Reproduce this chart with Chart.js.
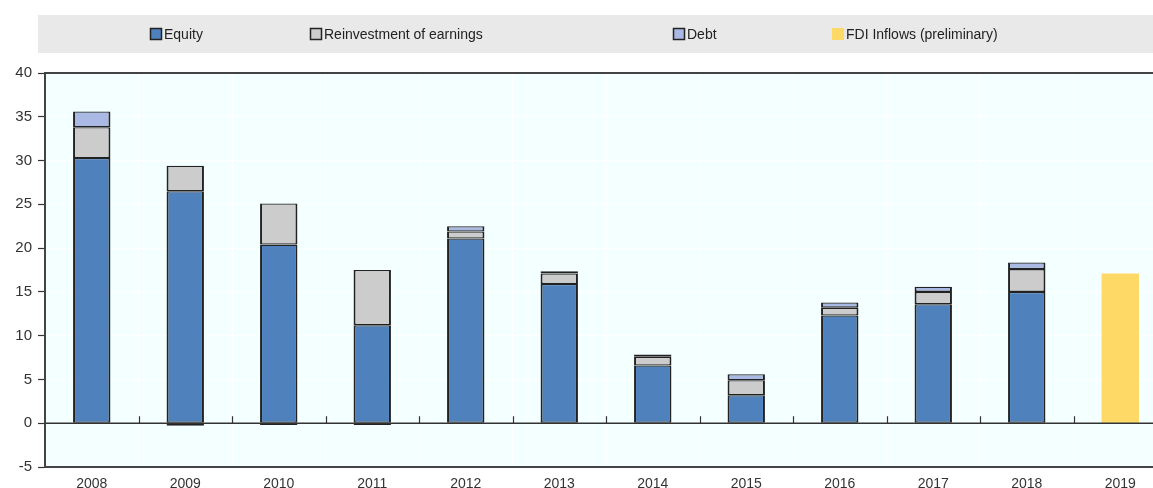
<!DOCTYPE html>
<html>
<head>
  <meta charset="utf-8">
  <script src="https://cdn.jsdelivr.net/npm/chart.js@4.4.1/dist/chart.umd.min.js"></script>
  <style>
    html, body {
      margin: 0;
      padding: 0;
      overflow: hidden;
      background: #ffffff;
    }
    #wrap {
      position: absolute;
      left: 0;
      top: 0;
    }
  </style>
</head>
<body>
  <div id="wrap">
    <canvas id="graph" width="1168" height="496"></canvas>
  </div>

  <script>
    // FDI inflows by component, USD billion
    var years = ['2008', '2009', '2010', '2011', '2012', '2013', '2014', '2015', '2016', '2017', '2018', '2019'];
    var equity = [30.3, 26.5, 20.4, 11.2, 21.1, 15.9, 6.6, 3.2, 12.3, 13.6, 15.0, null];
    var reinvest = [3.5, 2.9, 4.7, 6.3, 0.8, 1.2, 1.0, 1.7, 0.9, 1.4, 2.6, null];
    var debt = [1.8, -0.3, -0.2, -0.2, 0.6, 0.25, 0.25, 0.7, 0.6, 0.6, 0.75, null];
    var fdiPrelim = [null, null, null, null, null, null, null, null, null, null, null, 17.1];
    var yTicks = [-5, 0, 5, 10, 15, 20, 25, 30, 35, 40];

    var FONT = '"Liberation Sans", Arial, sans-serif';
    var INK = '#333333';
    // sides a bit heavier; adjacent top/bottom edges add up between segments
    var SEG_BORDER = { left: 2, right: 2, top: 1.3, bottom: 1.3 };

    // legend drawn inside a grey band above the plot
    var bandLegend = {
      id: 'bandLegend',
      afterDraw: function(chart, args, opts) {
        var ctx = chart.ctx;
        ctx.save();
        ctx.fillStyle = '#e9e9e9';
        ctx.fillRect(38, 15, chart.width - 38, 38);
        ctx.font = '14px ' + FONT;
        ctx.textBaseline = 'middle';
        chart.data.datasets.forEach(function(ds, i) {
          var x = opts.starts[i];
          ctx.fillStyle = ds.backgroundColor;
          ctx.fillRect(x, 28, 12, 12);
          if (ds.borderWidth) {
            ctx.strokeStyle = '#222';
            ctx.lineWidth = 1.5;
            ctx.strokeRect(x + 0.5, 28.5, 11, 11);
          }
          ctx.fillStyle = '#222';
          ctx.fillText(ds.label, x + 14, 35);
        });
        ctx.restore();
      }
    };

    // pale plot background, top frame line and small ticks on the zero line
    var plotFrame = {
      id: 'plotFrame',
      beforeDraw: function(chart) {
        var a = chart.chartArea;
        var ctx = chart.ctx;
        ctx.save();
        ctx.fillStyle = '#f4ffff';
        ctx.fillRect(a.left, a.top, a.right - a.left, a.bottom - a.top);
        ctx.restore();
      },
      afterDatasetsDraw: function(chart) {
        var a = chart.chartArea;
        var ctx = chart.ctx;
        var xs = chart.scales.x;
        var y0 = chart.scales.y.getPixelForValue(0);
        ctx.save();
        ctx.strokeStyle = '#444';
        ctx.lineWidth = 2;
        ctx.beginPath();
        ctx.moveTo(a.left, a.top);
        ctx.lineTo(a.right, a.top);
        ctx.stroke();
        ctx.lineWidth = 1.5;
        ctx.strokeStyle = '#333';
        ctx.beginPath();
        ctx.moveTo(a.left, y0);
        ctx.lineTo(a.right, y0);
        ctx.stroke();
        ctx.lineWidth = 1.2;
        for (var i = 1; i < years.length; i++) {
          var bx = Math.round((xs.getPixelForValue(i - 1) + xs.getPixelForValue(i)) / 2) + 0.5;
          ctx.beginPath();
          ctx.moveTo(bx, y0);
          ctx.lineTo(bx, y0 - 7);
          ctx.stroke();
        }
        ctx.restore();
      }
    };

    var ctx = document.getElementById('graph');
    var chart = new Chart(ctx, {
      type: 'bar',
      data: {
        labels: years,
        datasets: [
          { label: 'Equity', data: equity, backgroundColor: '#4f81bd', borderColor: '#222', borderWidth: SEG_BORDER },
          { label: 'Reinvestment of earnings', data: reinvest, backgroundColor: '#cccccc', borderColor: '#222', borderWidth: SEG_BORDER },
          { label: 'Debt', data: debt, backgroundColor: '#a9b9e4', borderColor: '#222', borderWidth: SEG_BORDER },
          { label: 'FDI Inflows (preliminary)', data: fdiPrelim, backgroundColor: '#ffd966', borderWidth: 0 }
        ]
      },
      options: {
        responsive: false,
        animation: false,
        devicePixelRatio: 1,
        layout: { padding: { top: 73, left: 0, right: 1, bottom: 0 } },
        datasets: {
          bar: { categoryPercentage: 1, barPercentage: 0.4, borderSkipped: false }
        },
        plugins: {
          legend: { display: false },
          tooltip: { enabled: false },
          bandLegend: { starts: [150, 310, 673, 832] }
        },
        scales: {
          x: {
            stacked: true,
            offset: true,
            grid: { color: '#ffffff', lineWidth: 1, drawTicks: false, offset: true },
            border: { display: true, color: '#444', width: 2 },
            ticks: { color: INK, font: { family: FONT, size: 14 }, padding: 9, maxRotation: 0 },
            afterFit: function(s) { s.height = 29; }
          },
          y: {
            stacked: true,
            min: -5,
            max: 40,
            afterBuildTicks: function(s) {
              s.ticks = yTicks.map(function(v) { return { value: v }; });
            },
            grid: {
              color: '#ffffff',
              lineWidth: 1,
              tickLength: 7,
              tickColor: '#333',
              tickWidth: 1.2
            },
            border: { display: true, color: '#444', width: 2 },
            ticks: { color: INK, font: { family: FONT, size: 15 }, padding: 6 },
            afterFit: function(s) { s.width = 45; }
          }
        }
      },
      plugins: [plotFrame, bandLegend]
    });
  </script>
</body>
</html>
